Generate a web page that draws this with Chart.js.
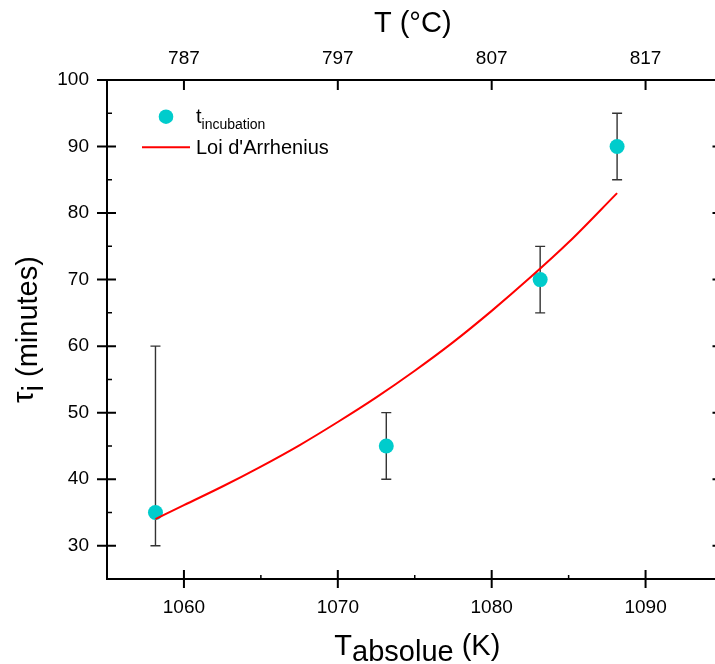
<!DOCTYPE html>
<html><head><meta charset="utf-8">
<script src="https://cdn.jsdelivr.net/npm/chart.js@4/dist/chart.umd.min.js"></script>
<style>html,body{margin:0;padding:0;background:#fff;overflow:hidden}#wrap{width:730px;height:664px}</style>
</head><body><div id="wrap"><canvas id="c" width="730" height="664"></canvas></div>
<script>
// ---- data ----
const tempK    = [1058.15, 1073.15, 1083.15, 1088.15];
const tauMin   = [35, 45, 70, 90];
const errMinus = [5, 5, 5, 5];
const errPlus  = [25, 5, 5, 5];
const fitK     = [1058.15, 1060, 1062.5, 1065, 1067.5, 1070, 1072.5, 1075, 1077.5, 1080, 1082.5, 1085, 1088.15];
const fitTau   = [34.0, 36.1, 38.9, 41.9, 45.1, 48.6, 52.3, 56.3, 60.6, 65.3, 70.3, 75.6, 83.0];
const xMajorK  = [1060, 1070, 1080, 1090];
const xMinorK  = [1065, 1075, 1085];
const topLabelsC = ['787', '797', '807', '817'];
const yMajor   = [30, 40, 50, 60, 70, 80, 90, 100];
const yMinor   = [35, 45, 55, 65, 75, 85, 95];
const legendMain = ['t', "Loi d'Arrhenius"];
const legendSub  = ['incubation', ''];

const FONT = "'Liberation Sans', Arial, Helvetica, sans-serif";
const TICKFONT = {family: FONT, size: 19};

const deco = {
  id: 'deco',
  beforeDatasetsDraw(chart) {
    const {ctx, scales: {x, y}} = chart;
    ctx.save();
    ctx.strokeStyle = '#333';
    ctx.lineWidth = 1.4;
    tempK.forEach((k, i) => {
      const px = x.getPixelForValue(k);
      const t = y.getPixelForValue(tauMin[i] + errPlus[i]);
      const b = y.getPixelForValue(tauMin[i] - errMinus[i]);
      ctx.beginPath();
      ctx.moveTo(px, t); ctx.lineTo(px, b);
      ctx.moveTo(px - 5, t); ctx.lineTo(px + 5, t);
      ctx.moveTo(px - 5, b); ctx.lineTo(px + 5, b);
      ctx.stroke();
    });
    ctx.restore();
  },
  afterDraw(chart) {
    const {ctx, chartArea: a, scales: {x, y}} = chart;
    ctx.save();
    ctx.strokeStyle = '#000';
    // major ticks
    ctx.lineWidth = 2;
    ctx.beginPath();
    xMajorK.forEach(k => {
      const px = x.getPixelForValue(k);
      ctx.moveTo(px, a.bottom - 9); ctx.lineTo(px, a.bottom + 9);
      ctx.moveTo(px, a.top); ctx.lineTo(px, a.top + 10);
    });
    yMajor.forEach(v => {
      const py = y.getPixelForValue(v);
      ctx.moveTo(a.left - 10, py); ctx.lineTo(a.left + 9, py);
      ctx.moveTo(a.right - 10, py); ctx.lineTo(a.right, py);
    });
    ctx.stroke();
    // minor ticks
    ctx.lineWidth = 1.5;
    ctx.beginPath();
    xMinorK.forEach(k => {
      const px = x.getPixelForValue(k);
      ctx.moveTo(px, a.bottom); ctx.lineTo(px, a.bottom - 4);
    });
    yMinor.forEach(v => {
      const py = y.getPixelForValue(v);
      ctx.moveTo(a.left, py); ctx.lineTo(a.left + 5, py);
      ctx.moveTo(a.right, py); ctx.lineTo(a.right - 5, py);
    });
    ctx.stroke();

    ctx.fillStyle = '#000';
    ctx.textBaseline = 'alphabetic';
    const cx = (a.left + a.right) / 2;
    // top title
    ctx.font = '29px ' + FONT;
    ctx.textAlign = 'center';
    ctx.fillText('T (°C)', cx - 2, 31.5);
    // bottom title with subscript
    ctx.textAlign = 'left';
    const p1 = 'T', p2 = 'absolue', p3 = ' (K)';
    const w = ctx.measureText(p1 + p2 + p3).width;
    let xx = cx + 1 - w / 2;
    ctx.fillText(p1, xx, 655); xx += ctx.measureText(p1).width;
    ctx.fillText(p2, xx, 661); xx += ctx.measureText(p2).width;
    ctx.fillText(p3, xx, 655);
    // y title (rotated)
    ctx.save();
    ctx.translate(36.5, (a.top + a.bottom) / 2);
    ctx.rotate(-Math.PI / 2);
    const q1 = 'τ', q2 = 'i', q3 = ' (minutes)';
    const wy = ctx.measureText(q1 + q2 + q3).width;
    let yy = -wy / 2;
    ctx.fillText(q1, yy, -4); yy += ctx.measureText(q1).width;
    ctx.fillText(q2, yy, 6); yy += ctx.measureText(q2).width;
    ctx.fillText(q3, yy, 0);
    ctx.restore();

    // legend
    const ds = chart.data.datasets;
    ctx.fillStyle = ds[0].backgroundColor;
    ctx.beginPath();
    ctx.arc(166, 116.7, 7.3, 0, Math.PI * 2);
    ctx.fill();
    ctx.fillStyle = '#000';
    ctx.font = '20px ' + FONT;
    ctx.fillText(legendMain[0], 196, 123);
    const tw = ctx.measureText(legendMain[0]).width;
    ctx.font = '14px ' + FONT;
    ctx.fillText(legendSub[0], 196 + tw, 129);
    ctx.strokeStyle = ds[1].borderColor;
    ctx.lineWidth = 2;
    ctx.beginPath();
    ctx.moveTo(142, 147.3); ctx.lineTo(190, 147.3);
    ctx.stroke();
    ctx.font = '20px ' + FONT;
    ctx.fillText(legendMain[1], 196, 154);
    ctx.restore();
  }
};

new Chart(document.getElementById('c'), {
  type: 'scatter',
  data: {
    datasets: [
      {
        label: legendMain[0] + legendSub[0],
        data: tempK.map((k, i) => ({x: k, y: tauMin[i]})),
        backgroundColor: '#00CCCC',
        borderWidth: 0,
        pointRadius: 7.5,
        showLine: false,
        order: 2
      },
      {
        label: legendMain[1],
        data: fitK.map((k, i) => ({x: k, y: fitTau[i]})),
        borderColor: '#FF0000',
        backgroundColor: '#FF0000',
        borderWidth: 2,
        pointRadius: 0,
        showLine: true,
        cubicInterpolationMode: 'monotone',
        order: 1
      }
    ]
  },
  options: {
    responsive: false,
    animation: false,
    devicePixelRatio: 1,
    layout: {padding: 0},
    plugins: {legend: {display: false}, tooltip: {enabled: false}},
    scales: {
      x: {
        type: 'linear', position: 'bottom', min: 1055, max: 1095,
        afterBuildTicks: s => { s.ticks = xMajorK.map(v => ({value: v})); },
        afterFit: s => { s.height = 85; },
        grid: {display: false},
        border: {display: true, color: '#000', width: 2},
        ticks: {font: TICKFONT, color: '#000', padding: 9, maxRotation: 0, callback: v => String(v)}
      },
      x2: {
        type: 'linear', position: 'top', min: 1055, max: 1095,
        afterBuildTicks: s => { s.ticks = xMajorK.map(v => ({value: v})); },
        afterFit: s => { s.height = 80; },
        grid: {display: false},
        border: {display: true, color: '#000', width: 2},
        ticks: {font: TICKFONT, color: '#000', padding: 2, maxRotation: 0, callback: (v, i) => topLabelsC[i]}
      },
      y: {
        type: 'linear', position: 'left', min: 25, max: 100,
        afterBuildTicks: s => { s.ticks = yMajor.map(v => ({value: v})); },
        afterFit: s => { s.width = 107; },
        grid: {display: false},
        border: {display: true, color: '#000', width: 2},
        ticks: {font: TICKFONT, color: '#000', padding: 10, callback: v => String(v)}
      },
      y2: {
        type: 'linear', position: 'right', min: 25, max: 100,
        afterFit: s => { s.width = 6.5; },
        grid: {display: false},
        border: {display: true, color: '#000', width: 2},
        ticks: {display: false}
      }
    }
  },
  plugins: [deco]
});
</script>
</body></html>
